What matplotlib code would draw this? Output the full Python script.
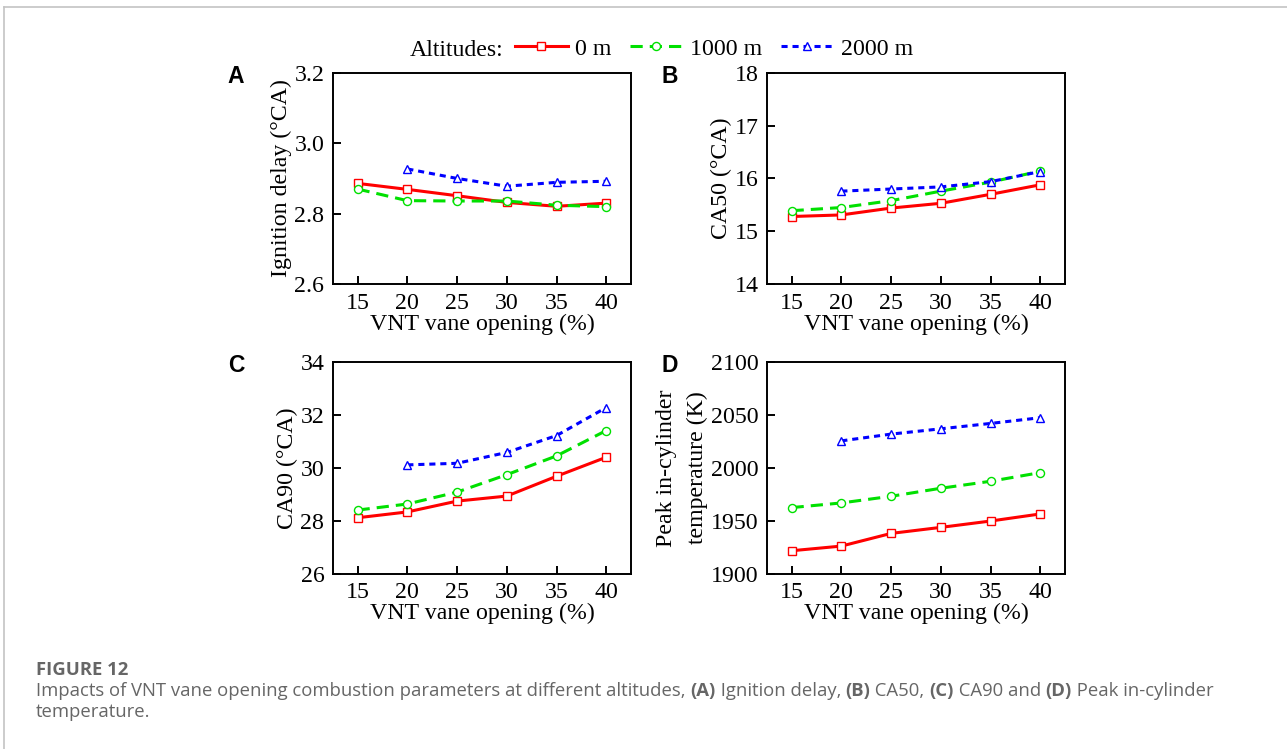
import matplotlib
matplotlib.use("Agg")
import matplotlib.pyplot as plt
from matplotlib.lines import Line2D

# VNT vane opening (%)
opening = [15, 20, 25, 30, 35, 40]
opening_2000 = [20, 25, 30, 35, 40]

# ignition delay (deg CA)
ign_0 = [2.886, 2.869, 2.851, 2.832, 2.821, 2.830]
ign_1000 = [2.870, 2.837, 2.836, 2.836, 2.824, 2.820]
ign_2000 = [2.927, 2.900, 2.878, 2.889, 2.892]

# CA50 (deg CA)
ca50_0 = [15.28, 15.31, 15.44, 15.53, 15.70, 15.88]
ca50_1000 = [15.39, 15.45, 15.58, 15.76, 15.93, 16.14]
ca50_2000 = [15.76, 15.80, 15.84, 15.94, 16.13]

# CA90 (deg CA)
ca90_0 = [28.12, 28.34, 28.75, 28.94, 29.69, 30.41]
ca90_1000 = [28.41, 28.64, 29.09, 29.75, 30.46, 31.42]
ca90_2000 = [30.12, 30.18, 30.59, 31.23, 32.29]

# peak in-cylinder temperature (K)
tmax_0 = [1921.8, 1926.2, 1938.2, 1943.9, 1949.9, 1956.6]
tmax_1000 = [1962.6, 1967.0, 1973.3, 1980.9, 1987.5, 1995.7]
tmax_2000 = [2025.7, 2032.1, 2037.1, 2042.2, 2047.6]

altitudes = ["0 m", "1000 m", "2000 m"]
xticks = [15, 20, 25, 30, 35, 40]

W, H = 1287, 749
fig = plt.figure(figsize=(W / 100, H / 100), dpi=100)
fig.patch.set_facecolor("white")

serif = "Liberation Serif"
fs = 17.2

styles = [
    dict(color="#ff0000", ls="-", marker="s", ms=5.2),
    dict(color="#00e000", ls=(0, (4, 2.3)), marker="o", ms=5.8),
    dict(color="#0000ff", ls=(0, (2, 1.6)), marker="^", ms=6.0),
]

panels = [
    ("A", "Ignition delay (°CA)", (2.6, 3.2), [2.6, 2.8, 3.0, 3.2], "{:.1f}",
     [ign_0, ign_1000, ign_2000], (332.7, 72.7)),
    ("B", "CA50 (°CA)", (14, 18), [14, 15, 16, 17, 18], "{:.0f}",
     [ca50_0, ca50_1000, ca50_2000], (766.7, 72.7)),
    ("C", "CA90 (°CA)", (26, 34), [26, 28, 30, 32, 34], "{:.0f}",
     [ca90_0, ca90_1000, ca90_2000], (332.7, 362.3)),
    ("D", "Peak in-cylinder\ntemperature (K)", (1900, 2100), [1900, 1950, 2000, 2050, 2100], "{:.0f}",
     [tmax_0, tmax_1000, tmax_2000], (766.7, 362.3)),
]

aw, ah = 298.5, 211.5
handles = []
for letter, ylabel, ylim, yticks, fmt, series, (px, py) in panels:
    ax = fig.add_axes([px / W, 1 - (py + ah) / H, aw / W, ah / H])
    xs = [opening, opening, opening_2000]
    lines = []
    for x, y, st in zip(xs, series, styles):
        ln, = ax.plot(x, y, color=st["color"], ls=st["ls"], lw=2.2,
                      marker=st["marker"], ms=st["ms"], mfc="white", mec=st["color"], mew=1.0)
        lines.append(ln)
    handles = lines
    ax.set_xlim(12.5, 42.5)
    ax.set_ylim(*ylim)
    ax.set_xticks(xticks)
    ax.set_yticks(yticks)
    ax.set_yticklabels([fmt.format(v) for v in yticks])
    ax.tick_params(direction="in", length=6, width=1.4, top=False, right=False,
                   labelsize=fs, pad=6)
    for lab in ax.get_xticklabels() + ax.get_yticklabels():
        lab.set_fontfamily(serif)
    for sp in ax.spines.values():
        sp.set_linewidth(1.4)
    ax.set_xlabel("VNT vane opening (%)", fontsize=fs, family=serif, labelpad=0)
    ax.set_ylabel(ylabel, fontsize=fs, family=serif, labelpad=2, linespacing=1.6)
    fig.text((px - 105) / W, 1 - (py + 10) / H, letter, fontsize=16.5, weight="bold",
             family="Liberation Sans", va="baseline")

# legend across the top
fig.text(410 / W, 1 - 56 / H, "Altitudes:", fontsize=fs, family=serif, va="baseline")
fig.legend(handles, altitudes, loc="center left", bbox_to_anchor=(515 / W, 1 - 49 / H),
           ncol=3, frameon=False, borderpad=0, borderaxespad=0, handlelength=2.2,
           handletextpad=0.3, columnspacing=0.8, prop={"family": serif, "size": fs})

# frame lines
fig.add_artist(Line2D([4 / W, 1], [1 - 7 / H, 1 - 7 / H], color="#c4c4c4", lw=1.2))
fig.add_artist(Line2D([4 / W, 4 / W], [0, 1 - 7 / H], color="#c4c4c4", lw=1.2))

# caption
cap = "#666666"
cfont = "Open Sans"
csize = 13.3
fig.text(36 / W, 1 - 675 / H, "FIGURE 12", fontsize=csize, weight="bold", family=cfont,
         color=cap, va="baseline")

renderer = fig.canvas.get_renderer()
pieces = [
    ("Impacts of VNT vane opening combustion parameters at different altitudes, ", "normal"),
    ("(A)", "bold"), (" Ignition delay, ", "normal"),
    ("(B)", "bold"), (" CA50, ", "normal"),
    ("(C)", "bold"), (" CA90 and ", "normal"),
    ("(D)", "bold"), (" Peak in-cylinder", "normal"),
]
x = 36 / W
for s, w in pieces:
    t = fig.text(x, 1 - 696 / H, s, fontsize=csize, weight=w, family=cfont,
                 color=cap, va="baseline")
    bb = t.get_window_extent(renderer)
    x = bb.x1 / W
fig.text(36 / W, 1 - 717 / H, "temperature.", fontsize=csize, family=cfont,
         color=cap, va="baseline")

fig.savefig("out.png", dpi=100)
